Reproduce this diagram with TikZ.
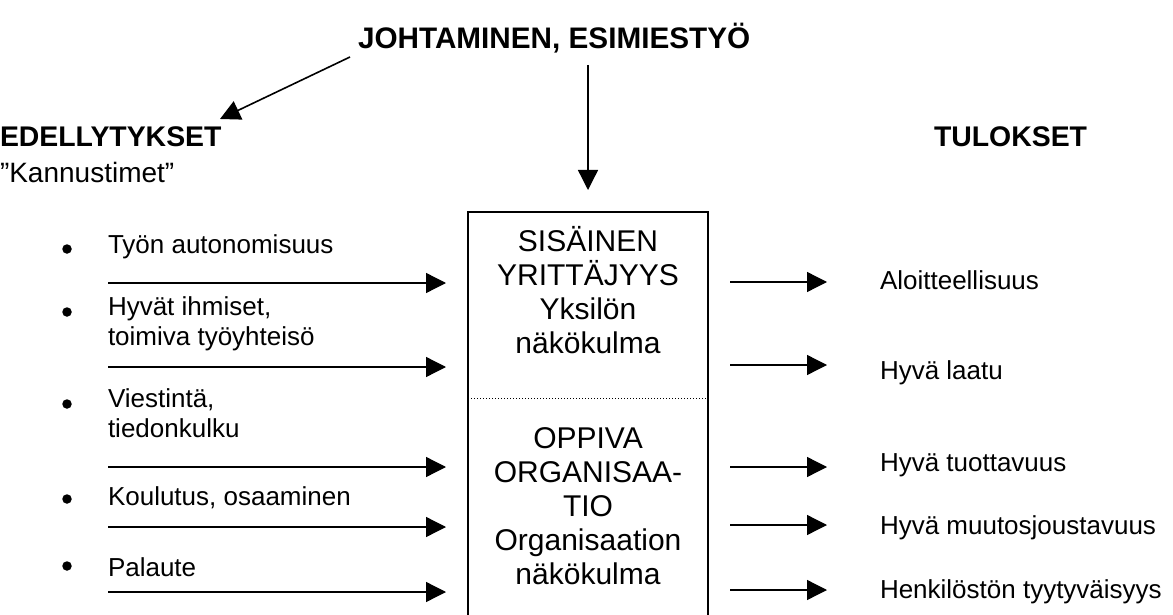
\documentclass[tikz,border=0pt]{standalone}
\usepackage{fontspec}
\setmainfont{Liberation Sans}
\usetikzlibrary{arrows.meta}
\begin{document}
\begin{tikzpicture}[x=1pt,y=-1pt,
  every node/.style={inner sep=0pt,outer sep=0pt},
  conn/.style={line width=1.3pt,-{Triangle[length=20pt,width=20pt]}},
  bodytxt/.style={anchor=west,font=\fontsize{26}{30}\selectfont,align=left},
  headtxt/.style={anchor=west,font=\fontsize{28.4}{32}\selectfont\bfseries},
  boxtxt/.style={font=\fontsize{30}{34}\selectfont,align=center},
  bul/.style={circle,fill=black,minimum size=9.5pt}]
\useasboundingbox (0,0) rectangle (1173,615);
\clip (0,0) rectangle (1173,615);
% title
\node[anchor=west,font=\fontsize{29.7}{32}\selectfont\bfseries] (title) at (358,38) {JOHTAMINEN, ESIMIESTYÖ};
\node[headtxt] (edel) at (0,137) {EDELLYTYKSET};
\node[anchor=west,font=\fontsize{28}{32}\selectfont] (kann) at (0,172) {”Kannustimet”};
\node[headtxt] (tul) at (934,137) {TULOKSET};
% box
\node[draw,line width=1.2pt,minimum width=240pt,minimum height=420pt,anchor=north] (box) at (588,212) {};
\draw[line width=1pt,dotted] (box.west |- 0,398) coordinate (dl) -- (box.east |- 0,398) coordinate (dr);
\node[boxtxt,anchor=north] (b1) at (588,226) {SISÄINEN\\YRITTÄJYYS\\Yksilön\\näkökulma};
\node[boxtxt,anchor=north] (b2) at (588,428) {OPPIVA\\ORGANISAA-\\TIO\\Organisaation\\näkökulma};
% title arrows
\coordinate (t1) at (350,57);
\coordinate (t1e) at (220,119);
\draw[conn,line width=1.6pt] (t1) -- (t1e);
\coordinate (t2) at (588,65);
\draw[conn] (t2) -- (box.north |- 0,190);
% bullets
\foreach \y/\n in {249/1,312/2,404/3,499/4,566/5}{\node[bul] (bu\n) at (67,\y) {};}
\node[bodytxt] (l1) at (108,247) {Työn autonomisuus};
\node[bodytxt,anchor=north west] (l2) at (108,297) {Hyvät ihmiset,\\toimiva työyhteisö};
\node[bodytxt,anchor=north west] (l3) at (108,389) {Viestintä,\\tiedonkulku};
\node[bodytxt] (l4) at (108,498) {Koulutus, osaaminen};
\node[bodytxt] (l5) at (108,567) {Palaute};
% left arrows
\foreach \y/\n in {283/1,367/2,467/3,527/4,592/5}{
  \coordinate (ls\n) at (108,\y);
  \coordinate (le\n) at (446,\y);
  \draw[conn] (ls\n) -- (le\n);}
% right arrows
\foreach \y/\n in {282/1,365/2,467/3,525/4,590/5}{
  \coordinate (rs\n) at (730,\y);
  \coordinate (re\n) at (827,\y);
  \draw[conn] (rs\n) -- (re\n);}
\node[bodytxt] (r1) at (880,280) {Aloitteellisuus};
\node[bodytxt] (r2) at (880,373) {Hyvä laatu};
\node[bodytxt] (r3) at (880,465) {Hyvä tuottavuus};
\node[bodytxt] (r4) at (880,528) {Hyvä muutosjoustavuus};
\node[bodytxt] (r5) at (880,592) {Henkilöstön tyytyväisyys};
\end{tikzpicture}
\end{document}
